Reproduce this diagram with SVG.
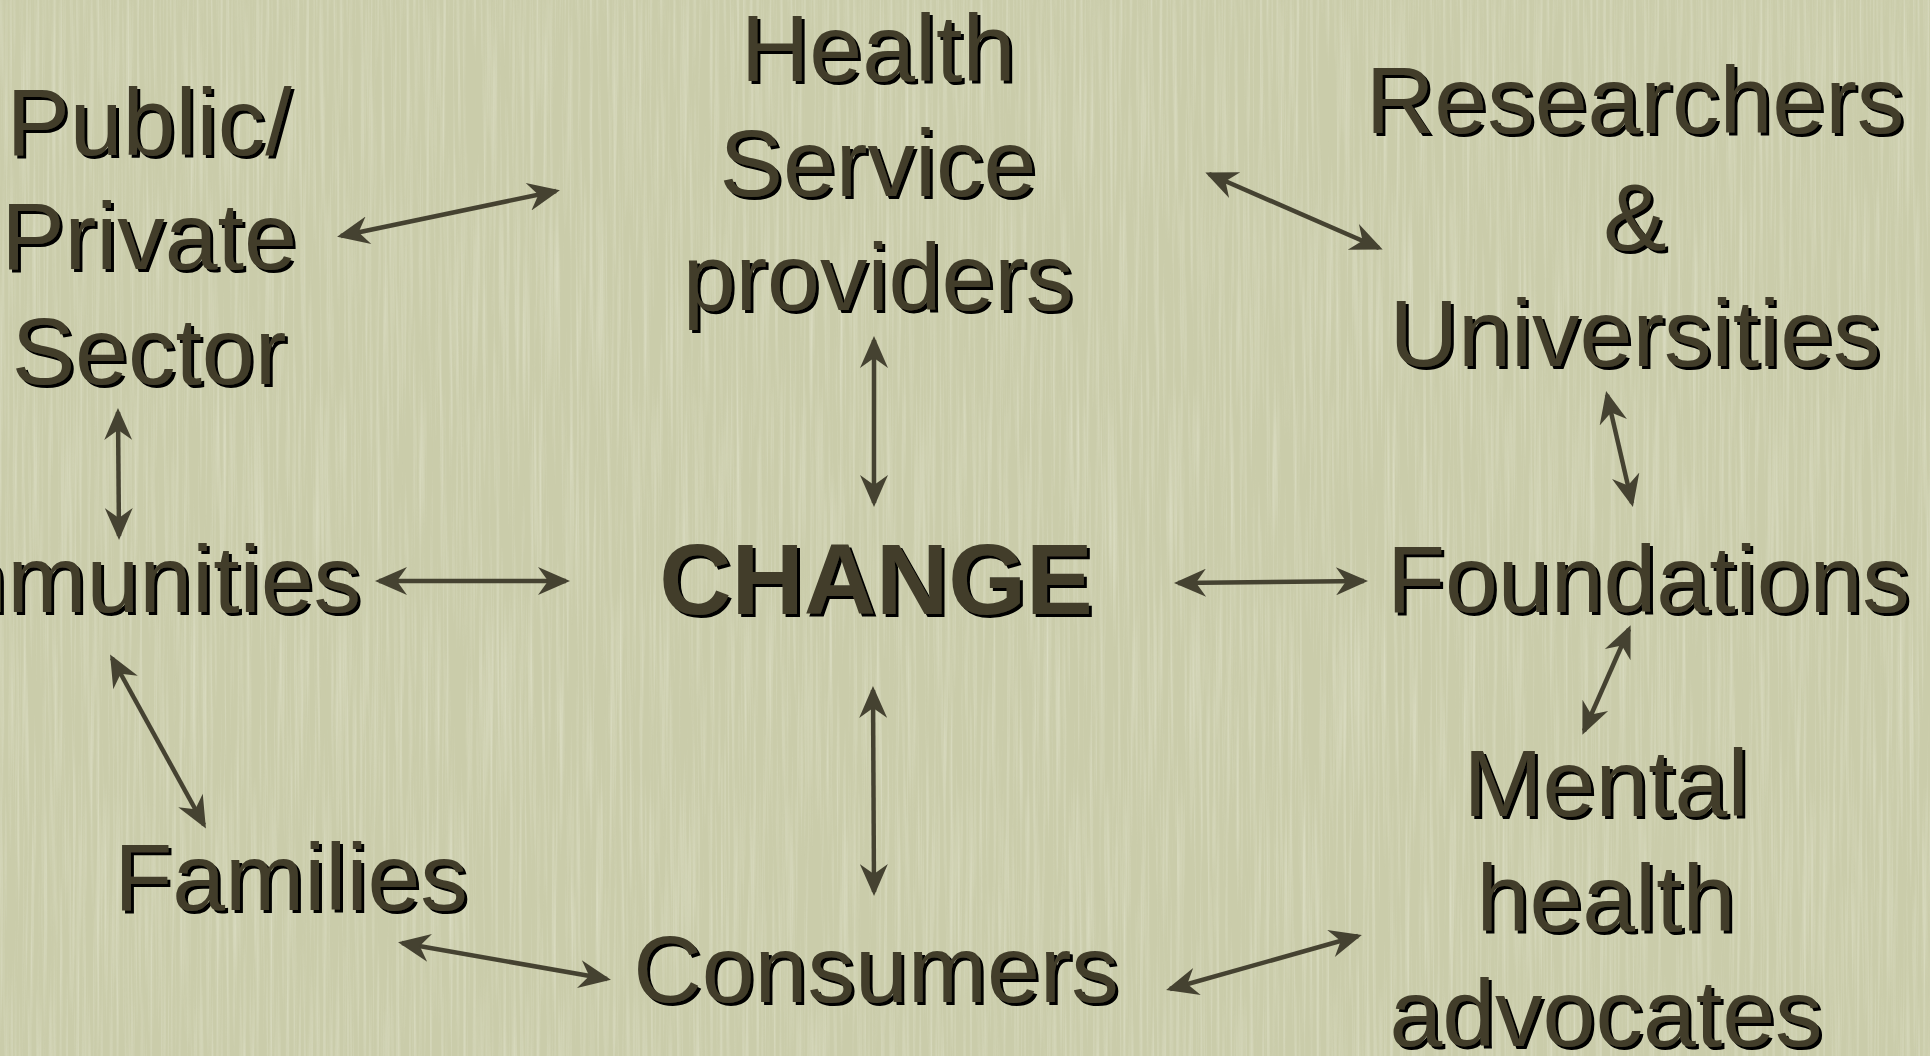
<svg xmlns="http://www.w3.org/2000/svg" width="1930" height="1056" viewBox="0 0 1930 1056">
<style>
.t{font-family:"Liberation Sans",Arial,sans-serif;font-size:95px;fill:#423e2b;text-anchor:middle}
.b{font-weight:bold;font-size:100px}
.c{stroke:#454231;stroke-width:4.5;fill:none;marker-start:url(#ah);marker-end:url(#ah)}
</style>
<defs>
<filter id="tex" x="0" y="0" width="100%" height="100%">
<feTurbulence type="fractalNoise" baseFrequency="0.3 0.005" numOctaves="3" seed="7"/>
<feColorMatrix type="matrix" values="0 0 0 0 0.9  0 0 0 0 0.91  0 0 0 0 0.8  1.6 0 0 0 -0.7"/>
</filter>
<filter id="sh" x="-5%" y="-5%" width="110%" height="120%">
<feDropShadow dx="3" dy="3" stdDeviation="0" flood-color="#000" flood-opacity="1"/>
</filter>
<marker id="ah" viewBox="-32 -14 40 28" refX="0" refY="0" markerWidth="40" markerHeight="28" markerUnits="userSpaceOnUse" orient="auto-start-reverse">
<path d="M4,0 L-28,-14 L-18,0 L-28,14 Z" fill="#454231"/>
</marker>
</defs>
<rect width="1930" height="1056" fill="#caccaa"/>
<rect width="1930" height="1056" filter="url(#tex)" opacity="0.5"/>

<g id="connectors">
<line class="c" x1="341" y1="236" x2="556" y2="191"/>
<line class="c" x1="1209" y1="174" x2="1379" y2="248"/>
<line class="c" x1="874" y1="340" x2="874" y2="503"/>
<line class="c" x1="118" y1="412" x2="119" y2="536"/>
<line class="c" x1="1607" y1="395" x2="1632" y2="503"/>
<line class="c" x1="379" y1="581" x2="566" y2="581"/>
<line class="c" x1="1178" y1="583" x2="1364" y2="581"/>
<line class="c" x1="112" y1="658" x2="204" y2="825"/>
<line class="c" x1="1629" y1="629" x2="1584" y2="731"/>
<line class="c" x1="873" y1="690" x2="874" y2="892"/>
<line class="c" x1="402" y1="943" x2="607" y2="979"/>
<line class="c" x1="1170" y1="989" x2="1358" y2="936"/>
</g>

<g filter="url(#sh)">
<g id="public-private">
<text class="t" x="149" y="155">Public/</text>
<text class="t" x="149" y="269">Private</text>
<text class="t" x="149" y="384">Sector</text>
</g>
<g id="health-service">
<text class="t" x="878" y="81">Health</text>
<text class="t" x="878" y="196">Service</text>
<text class="t" x="878" y="310">providers</text>
</g>
<g id="researchers">
<text class="t" x="1635" y="133">Researchers</text>
<text class="t" x="1635" y="250">&amp;</text>
<text class="t" x="1635" y="366">Universities</text>
</g>
<g id="communities">
<text class="t" x="361" y="612" style="text-anchor:end">Communities</text>
</g>
<g id="change">
<text class="t b" x="876" y="614">CHANGE</text>
</g>
<g id="foundations">
<text class="t" x="1387" y="612" style="text-anchor:start">Foundations</text>
</g>
<g id="families">
<text class="t" x="291" y="910">Families</text>
</g>
<g id="consumers">
<text class="t" x="876" y="1002">Consumers</text>
</g>
<g id="mental-health">
<text class="t" x="1606" y="816">Mental</text>
<text class="t" x="1606" y="931">health</text>
<text class="t" x="1606" y="1046">advocates</text>
</g>
</g>
</svg>
